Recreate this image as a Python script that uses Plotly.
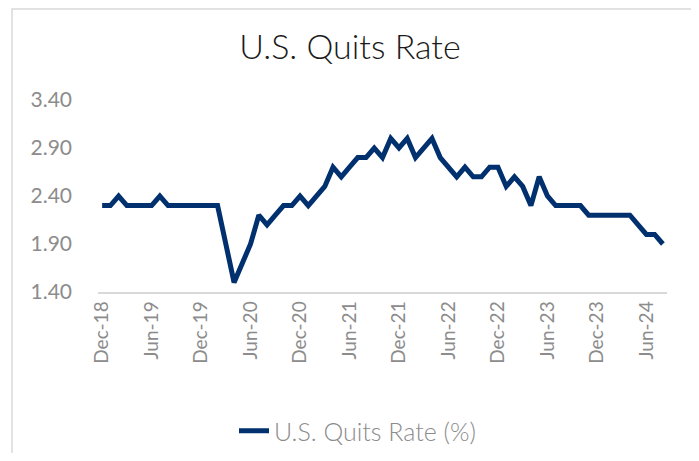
import plotly.graph_objects as go

months = [
    "Dec-18","Jan-19","Feb-19","Mar-19","Apr-19","May-19","Jun-19","Jul-19","Aug-19","Sep-19","Oct-19","Nov-19",
    "Dec-19","Jan-20","Feb-20","Mar-20","Apr-20","May-20","Jun-20","Jul-20","Aug-20","Sep-20","Oct-20","Nov-20",
    "Dec-20","Jan-21","Feb-21","Mar-21","Apr-21","May-21","Jun-21","Jul-21","Aug-21","Sep-21","Oct-21","Nov-21",
    "Dec-21","Jan-22","Feb-22","Mar-22","Apr-22","May-22","Jun-22","Jul-22","Aug-22","Sep-22","Oct-22","Nov-22",
    "Dec-22","Jan-23","Feb-23","Mar-23","Apr-23","May-23","Jun-23","Jul-23","Aug-23","Sep-23","Oct-23","Nov-23",
    "Dec-23","Jan-24","Feb-24","Mar-24","Apr-24","May-24","Jun-24","Jul-24","Aug-24",
]
quits_rate = [
    2.3, 2.3, 2.4, 2.3, 2.3, 2.3, 2.3, 2.4, 2.3, 2.3, 2.3, 2.3,
    2.3, 2.3, 2.3, 1.9, 1.5, 1.7, 1.9, 2.2, 2.1, 2.2, 2.3, 2.3,
    2.4, 2.3, 2.4, 2.5, 2.7, 2.6, 2.7, 2.8, 2.8, 2.9, 2.8, 3.0,
    2.9, 3.0, 2.8, 2.9, 3.0, 2.8, 2.7, 2.6, 2.7, 2.6, 2.6, 2.7,
    2.7, 2.5, 2.6, 2.5, 2.3, 2.6, 2.4, 2.3, 2.3, 2.3, 2.3, 2.2,
    2.2, 2.2, 2.2, 2.2, 2.2, 2.1, 2.0, 2.0, 1.9,
]
y_ticks = [1.40, 1.90, 2.40, 2.90, 3.40]
x_tick_labels = months[::6]

idx = list(range(len(months)))

fig = go.Figure()
fig.add_trace(go.Scatter(
    x=idx, y=quits_rate, mode="lines", name="U.S. Quits Rate (%)",
    line=dict(color="#00306E", width=5),
    hovertext=months,
))

# page body has an 8px default margin, so figure coords = screen coords - 8
OFF = 8
W, H = 699 - OFF, 461 - 2 * OFF
L = 98 - OFF
T = 100 - OFF
R = W - (667 - OFF)
B = H - (292 - OFF)
pw, ph = W - L - R, H - T - B

def px_x(x):
    return (x - OFF - L) / pw

def px_y(y):
    return (H - B - (y - OFF)) / ph

fig.update_layout(
    width=W, height=H,
    margin=dict(l=L, r=R, t=T, b=B, pad=0),
    paper_bgcolor="white", plot_bgcolor="white",
    title=dict(text="U.S. Quits Rate", x=(350 - OFF) / W, xref="container", xanchor="center",
               y=1 - (47 - OFF) / H, yref="container", yanchor="middle",
               font=dict(family="Lato", size=34, color="#1a1a1a", weight=300)),
    font=dict(family="Lato", color="#8c8c8c"),
    showlegend=True,
    legend=dict(orientation="h", x=(234 - OFF) / W, xref="container", xanchor="left",
                y=1 - (431 - OFF) / H, yref="container", yanchor="middle",
                font=dict(family="Lato", size=25, color="#8c8c8c", weight=300),
                itemwidth=30),
    xaxis=dict(range=[-0.5, len(months) - 0.5], tickmode="array",
               tickvals=idx[::6], ticktext=x_tick_labels, tickangle=-90,
               showgrid=False, zeroline=False, showline=True,
               linecolor="#d9d9d9", linewidth=1.5, ticks="",
               tickfont=dict(family="Lato", size=19, color="#8c8c8c")),
    yaxis=dict(range=[1.4, 3.4], tickmode="array", tickvals=y_ticks,
               ticktext=[f"{v:.2f}" for v in y_ticks],
               showgrid=False, zeroline=False, showline=False, ticks="",
               ticklabelstandoff=25,
               tickfont=dict(family="Lato", size=21, color="#8c8c8c")),
    shapes=[dict(type="rect", xref="paper", yref="paper",
                 x0=px_x(12), x1=px_x(695), y0=px_y(475), y1=px_y(9),
                 line=dict(color="#d9d9d9", width=1.5), fillcolor="rgba(0,0,0,0)",
                 layer="below")],
)

fig.write_html("out.html")
